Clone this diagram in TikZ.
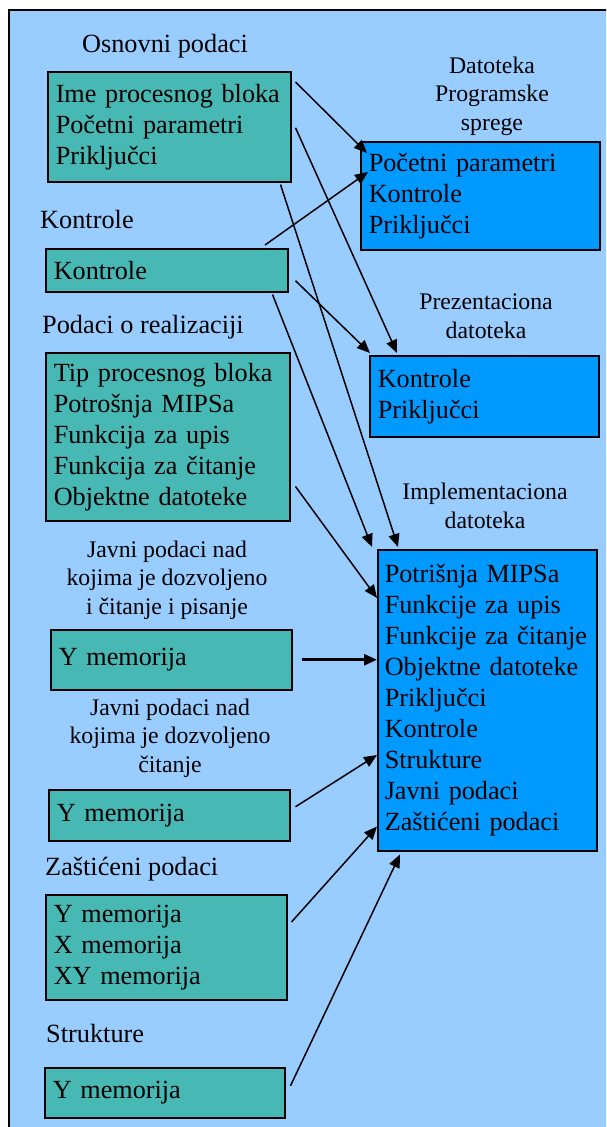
\documentclass[tikz,border=0pt]{standalone}
\usepackage{fontspec}
\setmainfont{Liberation Serif}
\usetikzlibrary{arrows.meta}
\definecolor{pozadina}{HTML}{99CCFF}
\definecolor{tirkiz}{HTML}{47B8B4}
\definecolor{plava}{HTML}{0099FF}
\hyphenpenalty=10000
\exhyphenpenalty=10000
\tikzset{
    blok/.style={draw, line width=1.5pt, anchor=north west, inner xsep=8pt, inner ysep=0pt, align=left, font=\fontsize{26.2}{31}\selectfont},
    tirkizblok/.style={blok, fill=tirkiz},
    plavblok/.style={blok, fill=plava},
    naslov/.style={anchor=base west, inner sep=0pt, font=\fontsize{26.3}{31}\selectfont},
    opis/.style={align=center, inner sep=0pt, font=\fontsize{23.8}{28.5}\selectfont},
    veza/.style={-{Triangle[length=13pt,width=11pt]}, line width=1.5pt}
}
\begin{document}
\begin{tikzpicture}[x=1pt, y=-1pt]
    \useasboundingbox (0,0) rectangle (606,1127);
    \clip (0,0) rectangle (606,1127);
    \draw[line width=1.5pt, fill=pozadina] (9,10) rectangle (640,1160);

    \node[naslov, anchor=base] (tosn) at (165,52) {Osnovni podaci};
    \node[naslov] (tkon) at (40,228) {Kontrole};
    \node[naslov] (treal) at (42,333) {Podaci o realizaciji};
    \node[opis] (tjavni1) at (167,580) {Javni podaci nad\\kojima je dozvoljeno\\i čitanje i pisanje};
    \node[opis] (tjavni2) at (170,738) {Javni podaci nad\\kojima je dozvoljeno\\čitanje};
    \node[naslov] (tzast) at (45,875) {Zaštićeni podaci};
    \node[naslov] (tstr) at (46,1042) {Strukture};
    \node[opis] (tsprega) at (492,96) {Datoteka\\Programske\\sprege};
    \node[opis] (tprez) at (486,316) {Prezentaciona\\datoteka};
    \node[opis] (timpl) at (485,506) {Implementaciona\\datoteka};

    \node[tirkizblok, text width=227pt, minimum height=110pt] (osn) at (47,71) {Ime procesnog bloka\\Početni parametri\\Priključci};
    \node[tirkizblok, text width=226pt, minimum height=43pt] (kon) at (45,248) {Kontrole};
    \node[tirkizblok, text width=228pt, minimum height=168pt] (real) at (45,352) {Tip procesnog bloka\\Potrošnja MIPSa\\Funkcija za upis\\Funkcija za čitanje\\Objektne datoteke};
    \node[tirkizblok, text width=225pt, minimum height=60pt] (ymrw) at (50,629) {Y memorija};
    \node[tirkizblok, text width=225pt, minimum height=51pt] (ymr) at (48,789) {Y memorija};
    \node[tirkizblok, text width=225pt, minimum height=105pt] (zast) at (45,894) {Y memorija\\X memorija\\XY memorija};
    \node[tirkizblok, text width=224pt, minimum height=50pt] (str) at (44,1067) {Y memorija};

    \node[plavblok, text width=223pt, minimum height=108pt] (sprega) at (360,141) {Početni parametri\\Kontrole\\Priključci};
    \node[plavblok, text width=213pt, minimum height=81pt] (prez) at (369,355) {Kontrole\\Priključci};
    \node[plavblok, inner xsep=7pt, text width=205pt, minimum height=301pt] (impl) at (377,549) {Potrišnja MIPSa\\Funkcije za upis\\Funkcije za čitanje\\Objektne datoteke\\Priključci\\Kontrole\\Strukture\\Javni podaci\\Zaštićeni podaci};

    \draw[veza] ([xshift=4pt,yshift=-11pt]osn.north east) -- ([xshift=7pt,yshift=-12pt]sprega.north west);
    \draw[veza] ([xshift=220pt,yshift=3pt]kon.north west) -- ([xshift=8pt,yshift=-31pt]sprega.north west);
    \draw[veza] ([xshift=4pt,yshift=-1pt]osn.east) -- ([xshift=28pt,yshift=2pt]prez.north west);
    \draw[veza] ([xshift=-11pt,yshift=-2pt]osn.south east) -- ([xshift=21pt,yshift=2pt]impl.north west);
    \draw[veza] ([xshift=7pt,yshift=-10.5pt]kon.east) -- ([xshift=1pt,yshift=2pt]prez.north west);
    \draw[veza] ([xshift=-16pt,yshift=-2pt]kon.south east) -- ([xshift=-5pt,yshift=2pt]impl.north west);
    \draw[veza] ([xshift=5pt,yshift=35pt]real.south east) -- ([yshift=-49pt]impl.north west);
    \draw[veza, line width=2.8pt] ([xshift=9pt]ymrw.east) -- (ymrw.east -| impl.west);
    \draw[veza] ([xshift=5pt,yshift=8.5pt]ymr.east) -- ([yshift=-206pt]impl.north west);
    \draw[veza] ([xshift=4pt,yshift=-28pt]zast.north east) -- ([yshift=25pt]impl.south west);
    \draw[veza] ([xshift=5pt,yshift=7pt]str.east) -- ([xshift=23pt,yshift=-3pt]impl.south west);
\end{tikzpicture}
\end{document}
